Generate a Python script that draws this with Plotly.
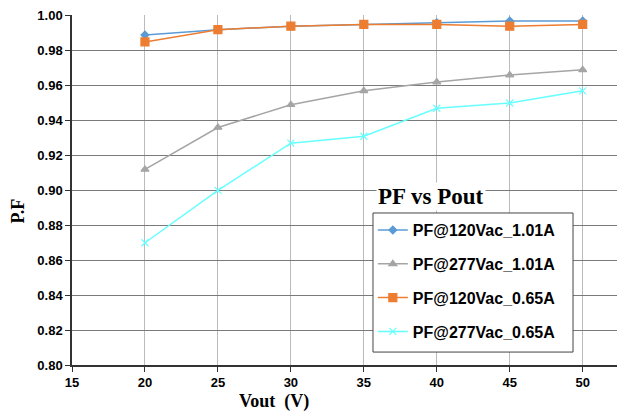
import plotly.graph_objects as go

vout = [20, 25, 30, 35, 40, 45, 50]
pf_120_101 = [0.989, 0.992, 0.994, 0.995, 0.996, 0.997, 0.997]
pf_277_101 = [0.912, 0.936, 0.949, 0.957, 0.962, 0.966, 0.969]
pf_120_065 = [0.985, 0.992, 0.994, 0.995, 0.995, 0.994, 0.995]
pf_277_065 = [0.870, 0.900, 0.927, 0.931, 0.947, 0.950, 0.957]
names = ["PF@120Vac_1.01A", "PF@277Vac_1.01A", "PF@120Vac_0.65A", "PF@277Vac_0.65A"]
y_ticks = [0.80, 0.82, 0.84, 0.86, 0.88, 0.90, 0.92, 0.94, 0.96, 0.98, 1.00]
x_ticks = [15, 20, 25, 30, 35, 40, 45, 50]

series = [pf_120_101, pf_277_101, pf_120_065, pf_277_065]
colors = ["#5b9bd5", "#a5a5a5", "#ed7d31", "#66ffff"]
symbols = ["diamond", "triangle-up", "square", "x-thin"]
sizes = [6, 7, 8, 7]

serif = "Times New Roman, Liberation Serif"
sans = "Arial, Liberation Sans"

fig = go.Figure()
for i, (nm, ys) in enumerate(zip(names, series)):
    fig.add_trace(go.Scatter(
        x=vout, y=ys, name=nm, mode="lines+markers",
        line=dict(color=colors[i], width=1.5),
        marker=dict(symbol=symbols[i], size=sizes[i], color=colors[i],
                    line=dict(color=colors[i], width=1.2)),
        legendgroup=str(i),
    ))

fig.update_layout(
    width=617, height=408,
    margin=dict(l=64, r=0, t=7, b=51),
    paper_bgcolor="white", plot_bgcolor="white",
    showlegend=True,
    legend=dict(
        x=0.544, y=0.434, xanchor="left", yanchor="top",
        bgcolor="rgba(0,0,0,0)", borderwidth=0,
        font=dict(family=sans, size=16, color="black", weight="bold"),
        tracegroupgap=10, itemwidth=30,
    ),
    xaxis=dict(
        range=[15, 52.9], tickvals=x_ticks, ticktext=[str(v) for v in x_ticks],
        showgrid=True, gridcolor="#bbbbbb", gridwidth=1,
        showline=True, linecolor="#333", linewidth=1.5,
        ticks="outside", ticklen=5, tickcolor="#333",
        tickfont=dict(family=sans, size=13, color="black", weight="bold"),
        zeroline=False, automargin=False,
    ),
    yaxis=dict(
        range=[0.80, 1.0004], tickvals=y_ticks, ticktext=[f"{v:.2f}" for v in y_ticks],
        showgrid=True, gridcolor="#7a7a7a", gridwidth=1,
        showline=True, linecolor="#333", linewidth=1.5,
        ticks="outside", ticklen=5, tickcolor="#333",
        tickfont=dict(family=sans, size=13, color="black", weight="bold"),
        ticklabeloverflow="allow",
        zeroline=False, automargin=False,
    ),
    shapes=[dict(type="rect", xref="paper", yref="paper",
                 x0=0.5443, x1=0.906, y0=0.037, y1=0.4343,
                 fillcolor="white", line=dict(color="#444", width=1), layer="above")],
    annotations=[
        dict(text="PF vs Pout", xref="paper", yref="paper", x=0.55, y=0.482,
             xanchor="left", yanchor="middle", showarrow=False,
             font=dict(family=serif, size=23, color="black", weight="bold"),
             bgcolor="white"),
        dict(text="Vout  (V)", xref="paper", yref="paper", x=0.365, y=-0.105,
             xanchor="center", yanchor="middle", showarrow=False,
             font=dict(family=serif, size=18, color="black", weight="bold")),
        dict(text="P.F", xref="paper", yref="paper", x=-0.0985, y=0.44,
             xanchor="center", yanchor="middle", showarrow=False, textangle=-90,
             borderpad=0,
             font=dict(family=serif, size=18, color="black", weight="bold")),
    ],
)

fig.write_html("out.html")
